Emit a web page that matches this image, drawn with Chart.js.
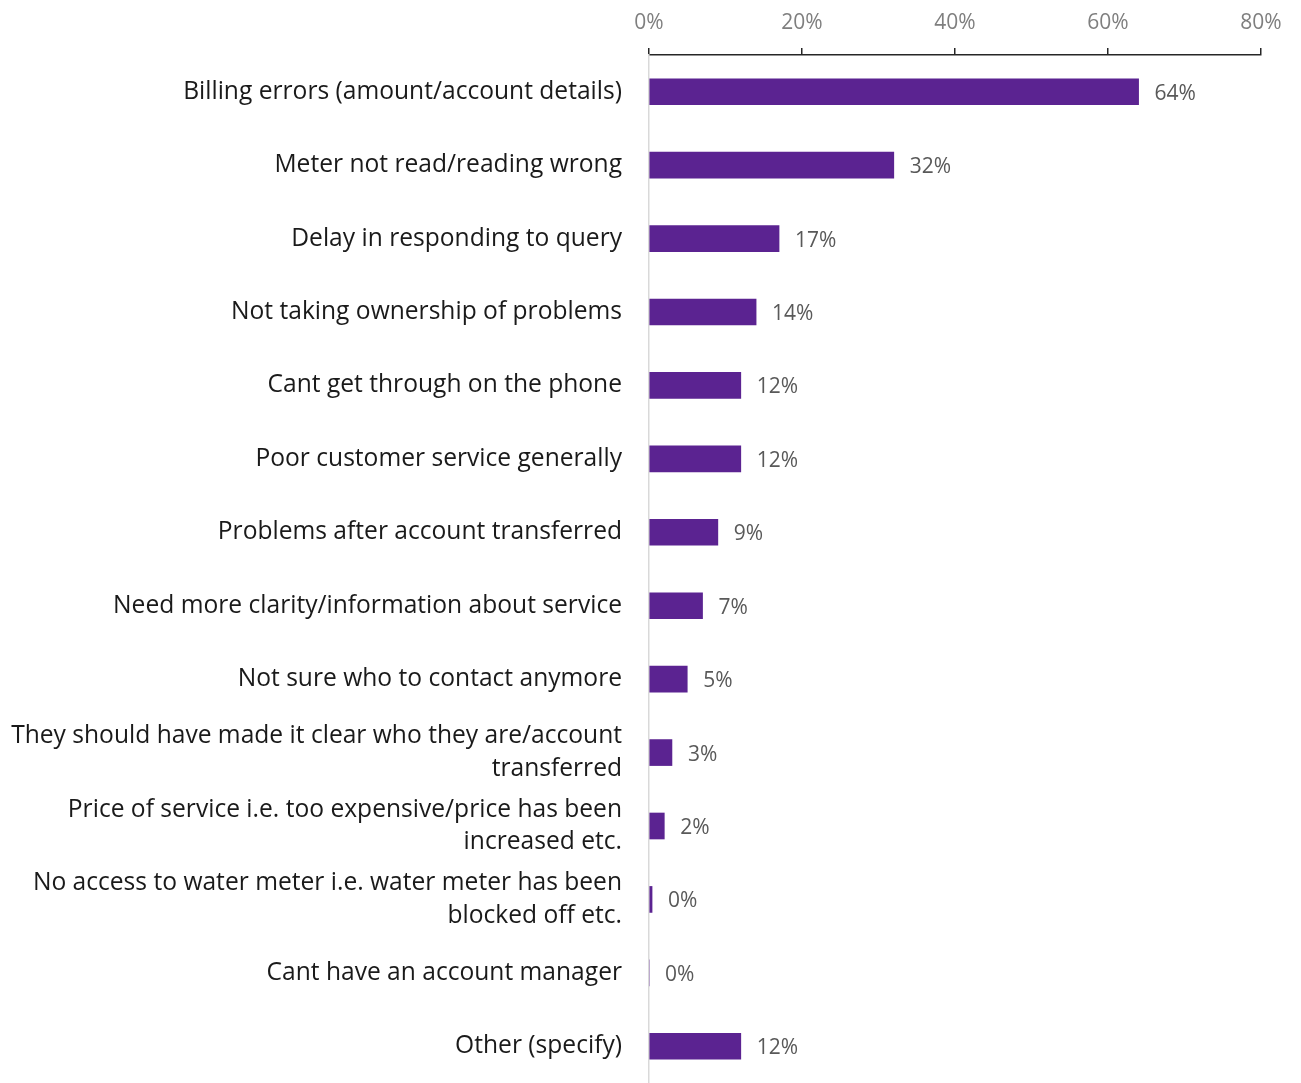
<!DOCTYPE html>
<html>
<head>
<meta charset="utf-8">
<script src="https://cdn.jsdelivr.net/npm/chart.js@4/dist/chart.umd.min.js"></script>
<style>
  body { margin: 0; background: #fff; }
  #wrap { width: 1301px; height: 1083px; }
</style>
</head>
<body>
<div id="wrap"><canvas id="issuesChart" width="1301" height="1083"></canvas></div>
<script>
var categories = [
    'Billing errors (amount/account details)',
    'Meter not read/reading wrong',
    'Delay in responding to query',
    'Not taking ownership of problems',
    'Cant get through on the phone',
    'Poor customer service generally',
    'Problems after account transferred',
    'Need more clarity/information about service',
    'Not sure who to contact anymore',
    ['They should have made it clear who they are/account', 'transferred'],
    ['Price of service i.e. too expensive/price has been', 'increased etc.'],
    ['No access to water meter i.e. water meter has been', 'blocked off etc.'],
    'Cant have an account manager',
    'Other (specify)'
];
var percents = [64, 32, 17, 14, 12, 12, 9, 7, 5, 3, 2, 0.4, 0, 12];
var axisTicks = [0, 20, 40, 60, 80];

var barColour = '#5b2391';
var fontName = 'Open Sans';

// writes "nn%" just past the end of each bar
var valueLabels = {
    id: 'valueLabels',
    afterDatasetsDraw: function(chart){
        var ctx = chart.ctx;
        var meta = chart.getDatasetMeta(0);
        ctx.save();
        ctx.font = '21px "' + fontName + '"';
        ctx.fillStyle = '#595959';
        ctx.textAlign = 'left';
        ctx.textBaseline = 'middle';
        meta.data.forEach(function(bar, i){
            ctx.fillText(Math.round(percents[i]) + '%', bar.x + 16, bar.y + 2);
        });
        ctx.restore();
    }
};

function createIssuesChart(){
    var ctx = document.getElementById('issuesChart').getContext('2d');
    var data = {
        labels: categories,
        datasets: [{
            data: percents,
            backgroundColor: barColour,
            borderWidth: 0,
            barThickness: 26
        }]
    };
    new Chart(ctx, {
        type: 'bar',
        data: data,
        plugins: [valueLabels],
        options: {
            indexAxis: 'y',
            responsive: false,
            animation: false,
            layout: { padding: { top: 0, right: 40, bottom: 0, left: 0 } },
            plugins: { legend: { display: false }, tooltip: { enabled: false } },
            scales: {
                x: {
                    position: 'top',
                    min: 0,
                    max: 80,
                    afterBuildTicks: function(scale){
                        scale.ticks = axisTicks.map(function(v){ return { value: v }; });
                    },
                    afterFit: function(scale){ scale.height = 55; },
                    grid: {
                        drawOnChartArea: false,
                        drawTicks: true,
                        tickLength: 7,
                        color: '#262626',
                        lineWidth: 1.5
                    },
                    border: { display: true, color: '#262626', width: 1.5 },
                    ticks: {
                        padding: 12,
                        color: '#7f7f7f',
                        font: { family: fontName, size: 21 },
                        callback: function(v){ return v + '%'; }
                    }
                },
                y: {
                    afterFit: function(scale){
                        scale.width = 649;
                        scale.paddingTop = 0;
                        scale.paddingBottom = 0;
                    },
                    grid: { display: false },
                    border: { display: true, color: '#d9d9d9', width: 1.5 },
                    ticks: {
                        padding: 19,
                        color: '#1a1a1a',
                        font: { family: fontName, size: 24.6, lineHeight: 1.34 }
                    }
                }
            }
        }
    });
}

createIssuesChart();
</script>
</body>
</html>
